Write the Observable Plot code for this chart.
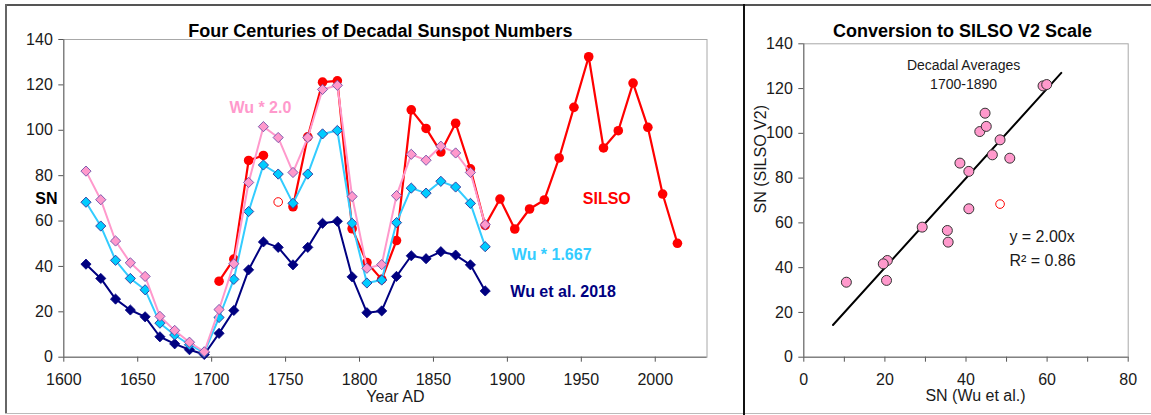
<!DOCTYPE html>
<html>
<head>
<meta charset="utf-8">
<script src="https://cdn.jsdelivr.net/npm/d3@7"></script>
<script src="https://cdn.jsdelivr.net/npm/@observablehq/plot@0.6"></script>
<style>
  html, body { margin: 0; padding: 0; background: #fff; }
  #wrap { position: relative; width: 1151px; height: 415px; overflow: hidden; background: #fff; }
  #left { position: absolute; left: 0; top: 0; }
  #right { position: absolute; left: 743px; top: 0; }
  .fr { position: absolute; }
</style>
</head>
<body>
<div id="wrap">
  <div id="left"></div>
  <div id="right"></div>
  <div class="fr" style="left:5px;top:4px;width:1146px;height:2px;background:#555;"></div>
  <div class="fr" style="left:5px;top:4px;width:2px;height:410px;background:#666;"></div>
  <div class="fr" style="left:5px;top:413px;width:1146px;height:1px;background:#bbb;"></div>
  <div class="fr" style="left:743px;top:4px;width:2px;height:411px;background:#111;"></div>
</div>
<script>
const FONT = '"Liberation Sans", Arial, Helvetica, sans-serif';

// ---- Left panel data ----
const wuYears = [1615,1625,1635,1645,1655,1665,1675,1685,1695,1705,1715,1725,1735,1745,1755,1765,1775,1785,1795,1805,1815,1825,1835,1845,1855,1865,1875,1885];
const wu2018 = [41.0,34.7,25.6,20.8,17.8,9.0,5.9,3.3,1.2,10.5,20.6,38.5,50.8,48.4,40.7,48.4,59.0,59.9,35.4,19.6,20.4,35.6,44.7,43.4,46.5,45.0,40.7,29.2];
const wuTimes1667 = [68.3,57.8,42.7,34.7,29.7,15.0,9.8,5.5,2.0,17.5,34.3,64.2,84.7,80.7,67.8,80.7,98.4,99.9,59.0,32.7,34.0,59.3,74.5,72.3,77.5,75.0,67.8,48.7];
const wuTimes2 = [82.0,69.4,51.2,41.6,35.6,18.0,11.8,6.6,2.4,21.0,41.2,77.0,101.6,96.8,81.4,96.8,118.0,119.8,70.8,39.2,40.8,71.2,89.4,86.8,93.0,90.0,81.4,58.4];

const silsoYears = [1705,1715,1725,1735,1745,1755,1765,1775,1785,1795,1805,1815,1825,1835,1845,1855,1865,1875,1885,1895,1905,1915,1925,1935,1945,1955,1965,1975,1985,1995,2005,2015];
const silso = [33.5,43.2,86.7,88.9,null,66.3,97.1,121.2,121.8,56.6,41.7,34.3,51.4,109.0,100.8,90.4,103.1,83.0,58.1,69.7,56.5,65.3,69.3,87.8,110.1,132.4,92.2,99.8,120.8,101.3,71.9,50.2];
const silsoExcludedYear = [1745];
const silsoExcludedValue = [68.4];

const xTicksLeft = [1600,1650,1700,1750,1800,1850,1900,1950,2000];
const yTicks = [0,20,40,60,80,100,120,140];

// series labels (text, year, value)
const seriesLabelText = ["Wu * 2.0", "SILSO", "Wu * 1.667", "Wu et al. 2018"];
const seriesLabelYear = [1712, 1951, 1903, 1902];
const seriesLabelValue = [110, 69.7, 45.2, 28.6];
const seriesLabelColor = ["#FF99CC", "#FF0000", "#33CCFF", "#000080"];

// ---- Right panel data ----
const xTicksRight = [0,10,20,30,40,50,60,70,80];
const xLabelsRight = [0,20,40,60,80];
const fitSlope = 2.00;
const fitR2 = 0.86;
const fitX = [7.2, 63.5];

// Build tables
const rowsOf = (years, vals) => years.map((year, i) => ({year, value: vals[i]}));
const silsoRows = rowsOf(silsoYears, silso);
const wuRows = rowsOf(wuYears, wu2018);
const wu1667Rows = rowsOf(wuYears, wuTimes1667);
const wu2Rows = rowsOf(wuYears, wuTimes2);
const excludedRows = rowsOf(silsoExcludedYear, silsoExcludedValue);
const labelRows = seriesLabelText.map((t, i) => ({text: t, year: seriesLabelYear[i], value: seriesLabelValue[i], color: seriesLabelColor[i]}));

// scatter pairs 1700-1890 (Wu vs SILSO)
const scatterRows = [];
silsoYears.forEach((y, i) => {
  const j = wuYears.indexOf(y);
  if (j >= 0 && silso[i] != null) scatterRows.push({wu: wu2018[j], sn: silso[i]});
});
const scatterExcluded = silsoExcludedYear.map((y, i) => ({wu: wu2018[wuYears.indexOf(y)], sn: silsoExcludedValue[i]}));
const fitRows = fitX.map(x => ({x, y: fitSlope * x}));

const ML = 63.3, MR = 36.5, MT = 39, MB = 58.3;
const left = Plot.plot({
  width: 743, height: 415,
  marginLeft: ML, marginRight: MR, marginTop: MT, marginBottom: MB,
  style: {fontFamily: FONT, fontSize: "16px", color: "#1a1a1a", background: "transparent", overflow: "visible"},
  x: {domain: [1600, 2035]},
  y: {domain: [0, 140]},
  marks: [
    Plot.frame({stroke: "#a8a8a8"}),
    Plot.axisX({ticks: xTicksLeft, tickFormat: d => String(d), tickSize: 5, tickPadding: 11, label: null, stroke: "#555", fontSize: 16}),
    Plot.axisY({ticks: yTicks, tickSize: 5, tickPadding: 6, label: null, stroke: "#555", fontSize: 16}),
    Plot.ruleY([0], {stroke: "#666"}),
    Plot.ruleX([1600], {stroke: "#666"}),
    Plot.line(silsoRows, {x: "year", y: "value", stroke: "#FF0000", strokeWidth: 2.2}),
    Plot.dot(silsoRows, {x: "year", y: "value", r: 4.8, fill: "#FF0000"}),
    Plot.dot(excludedRows, {x: "year", y: "value", r: 4.3, fill: "white", stroke: "#FF0000", strokeWidth: 1}),
    Plot.line(wuRows, {x: "year", y: "value", stroke: "#000080", strokeWidth: 2}),
    Plot.dot(wuRows, {x: "year", y: "value", symbol: "diamond2", r: 4.6, fill: "#000080", stroke: "#000080", strokeWidth: 0.8}),
    Plot.line(wu1667Rows, {x: "year", y: "value", stroke: "#33CCFF", strokeWidth: 2}),
    Plot.dot(wu1667Rows, {x: "year", y: "value", symbol: "diamond2", r: 4.6, fill: "#00CCFF", stroke: "#333399", strokeWidth: 0.9}),
    Plot.line(wu2Rows, {x: "year", y: "value", stroke: "#FF99CC", strokeWidth: 2}),
    Plot.dot(wu2Rows, {x: "year", y: "value", symbol: "diamond2", r: 4.6, fill: "#FF99CC", stroke: "#7050A8", strokeWidth: 0.9}),
    Plot.text(labelRows, {x: "year", y: "value", text: "text", fill: "color", textAnchor: "start", fontWeight: "bold", fontSize: 16}),
    Plot.text(["Four Centuries of Decadal Sunspot Numbers"], {frameAnchor: "top", dx: -5, dy: -15, fontWeight: "bold", fontSize: 18, fill: "#000"}),
    Plot.text(["SN"], {frameAnchor: "left", dx: -28.5, dy: 1, fontWeight: "bold", fontSize: 16, fill: "#000"}),
    Plot.text(["Year AD"], {frameAnchor: "bottom", dx: 10, dy: 45, fontSize: 16, fill: "#1a1a1a"})
  ]
});
document.getElementById("left").appendChild(left);

const RML = 60.3, RMR = 23.3, RMT = 43.3, RMB = 58.3;
const right = Plot.plot({
  width: 408, height: 415,
  marginLeft: RML, marginRight: RMR, marginTop: RMT, marginBottom: RMB,
  style: {fontFamily: FONT, fontSize: "16px", color: "#1a1a1a", background: "transparent", overflow: "visible"},
  x: {domain: [0, 80]},
  y: {domain: [0, 140]},
  marks: [
    Plot.frame({stroke: "#a8a8a8"}),
    Plot.axisX({ticks: xTicksRight, tickFormat: d => xLabelsRight.includes(d) ? String(d) : "", tickSize: 5, tickPadding: 11, label: null, stroke: "#555", fontSize: 16}),
    Plot.axisY({ticks: yTicks, tickSize: 5, tickPadding: 6, label: null, stroke: "#555", fontSize: 16}),
    Plot.ruleY([0], {stroke: "#666"}),
    Plot.ruleX([0], {stroke: "#666"}),
    Plot.line(fitRows, {x: "x", y: "y", stroke: "#000", strokeWidth: 2}),
    Plot.dot(scatterRows, {x: "wu", y: "sn", r: 5, fill: "#FF99CC", stroke: "#333", strokeWidth: 1}),
    Plot.dot(scatterExcluded, {x: "wu", y: "sn", r: 4.3, fill: "white", stroke: "#FF0000", strokeWidth: 1}),
    Plot.text(["Decadal Averages"], {x: [39.4], y: [130.3], fontSize: 14, fill: "#1a1a1a"}),
    Plot.text(["1700-1890"], {x: [39.4], y: [121.8], fontSize: 14, fill: "#1a1a1a"}),
    Plot.text([`y = ${fitSlope.toFixed(2)}x`], {x: [50.7], y: [53.9], textAnchor: "start", fontSize: 16, fill: "#1a1a1a"}),
    Plot.text([`R\u00B2 = ${fitR2.toFixed(2)}`], {x: [50.7], y: [43.2], textAnchor: "start", fontSize: 16, fill: "#1a1a1a"}),
    Plot.text(["Conversion to SILSO V2 Scale"], {frameAnchor: "top", dx: -3.5, dy: -19.3, fontWeight: "bold", fontSize: 18, fill: "#000"}),
    Plot.text(["SN (SILSO V2)"], {frameAnchor: "left", rotate: -90, dx: -42.6, dy: 13, fontSize: 16, fill: "#1a1a1a"}),
    Plot.text(["SN (Wu et al.)"], {frameAnchor: "bottom", dx: 9.5, dy: 44, fontSize: 16, fill: "#1a1a1a"})
  ]
});
document.getElementById("right").appendChild(right);
</script>
</body>
</html>
